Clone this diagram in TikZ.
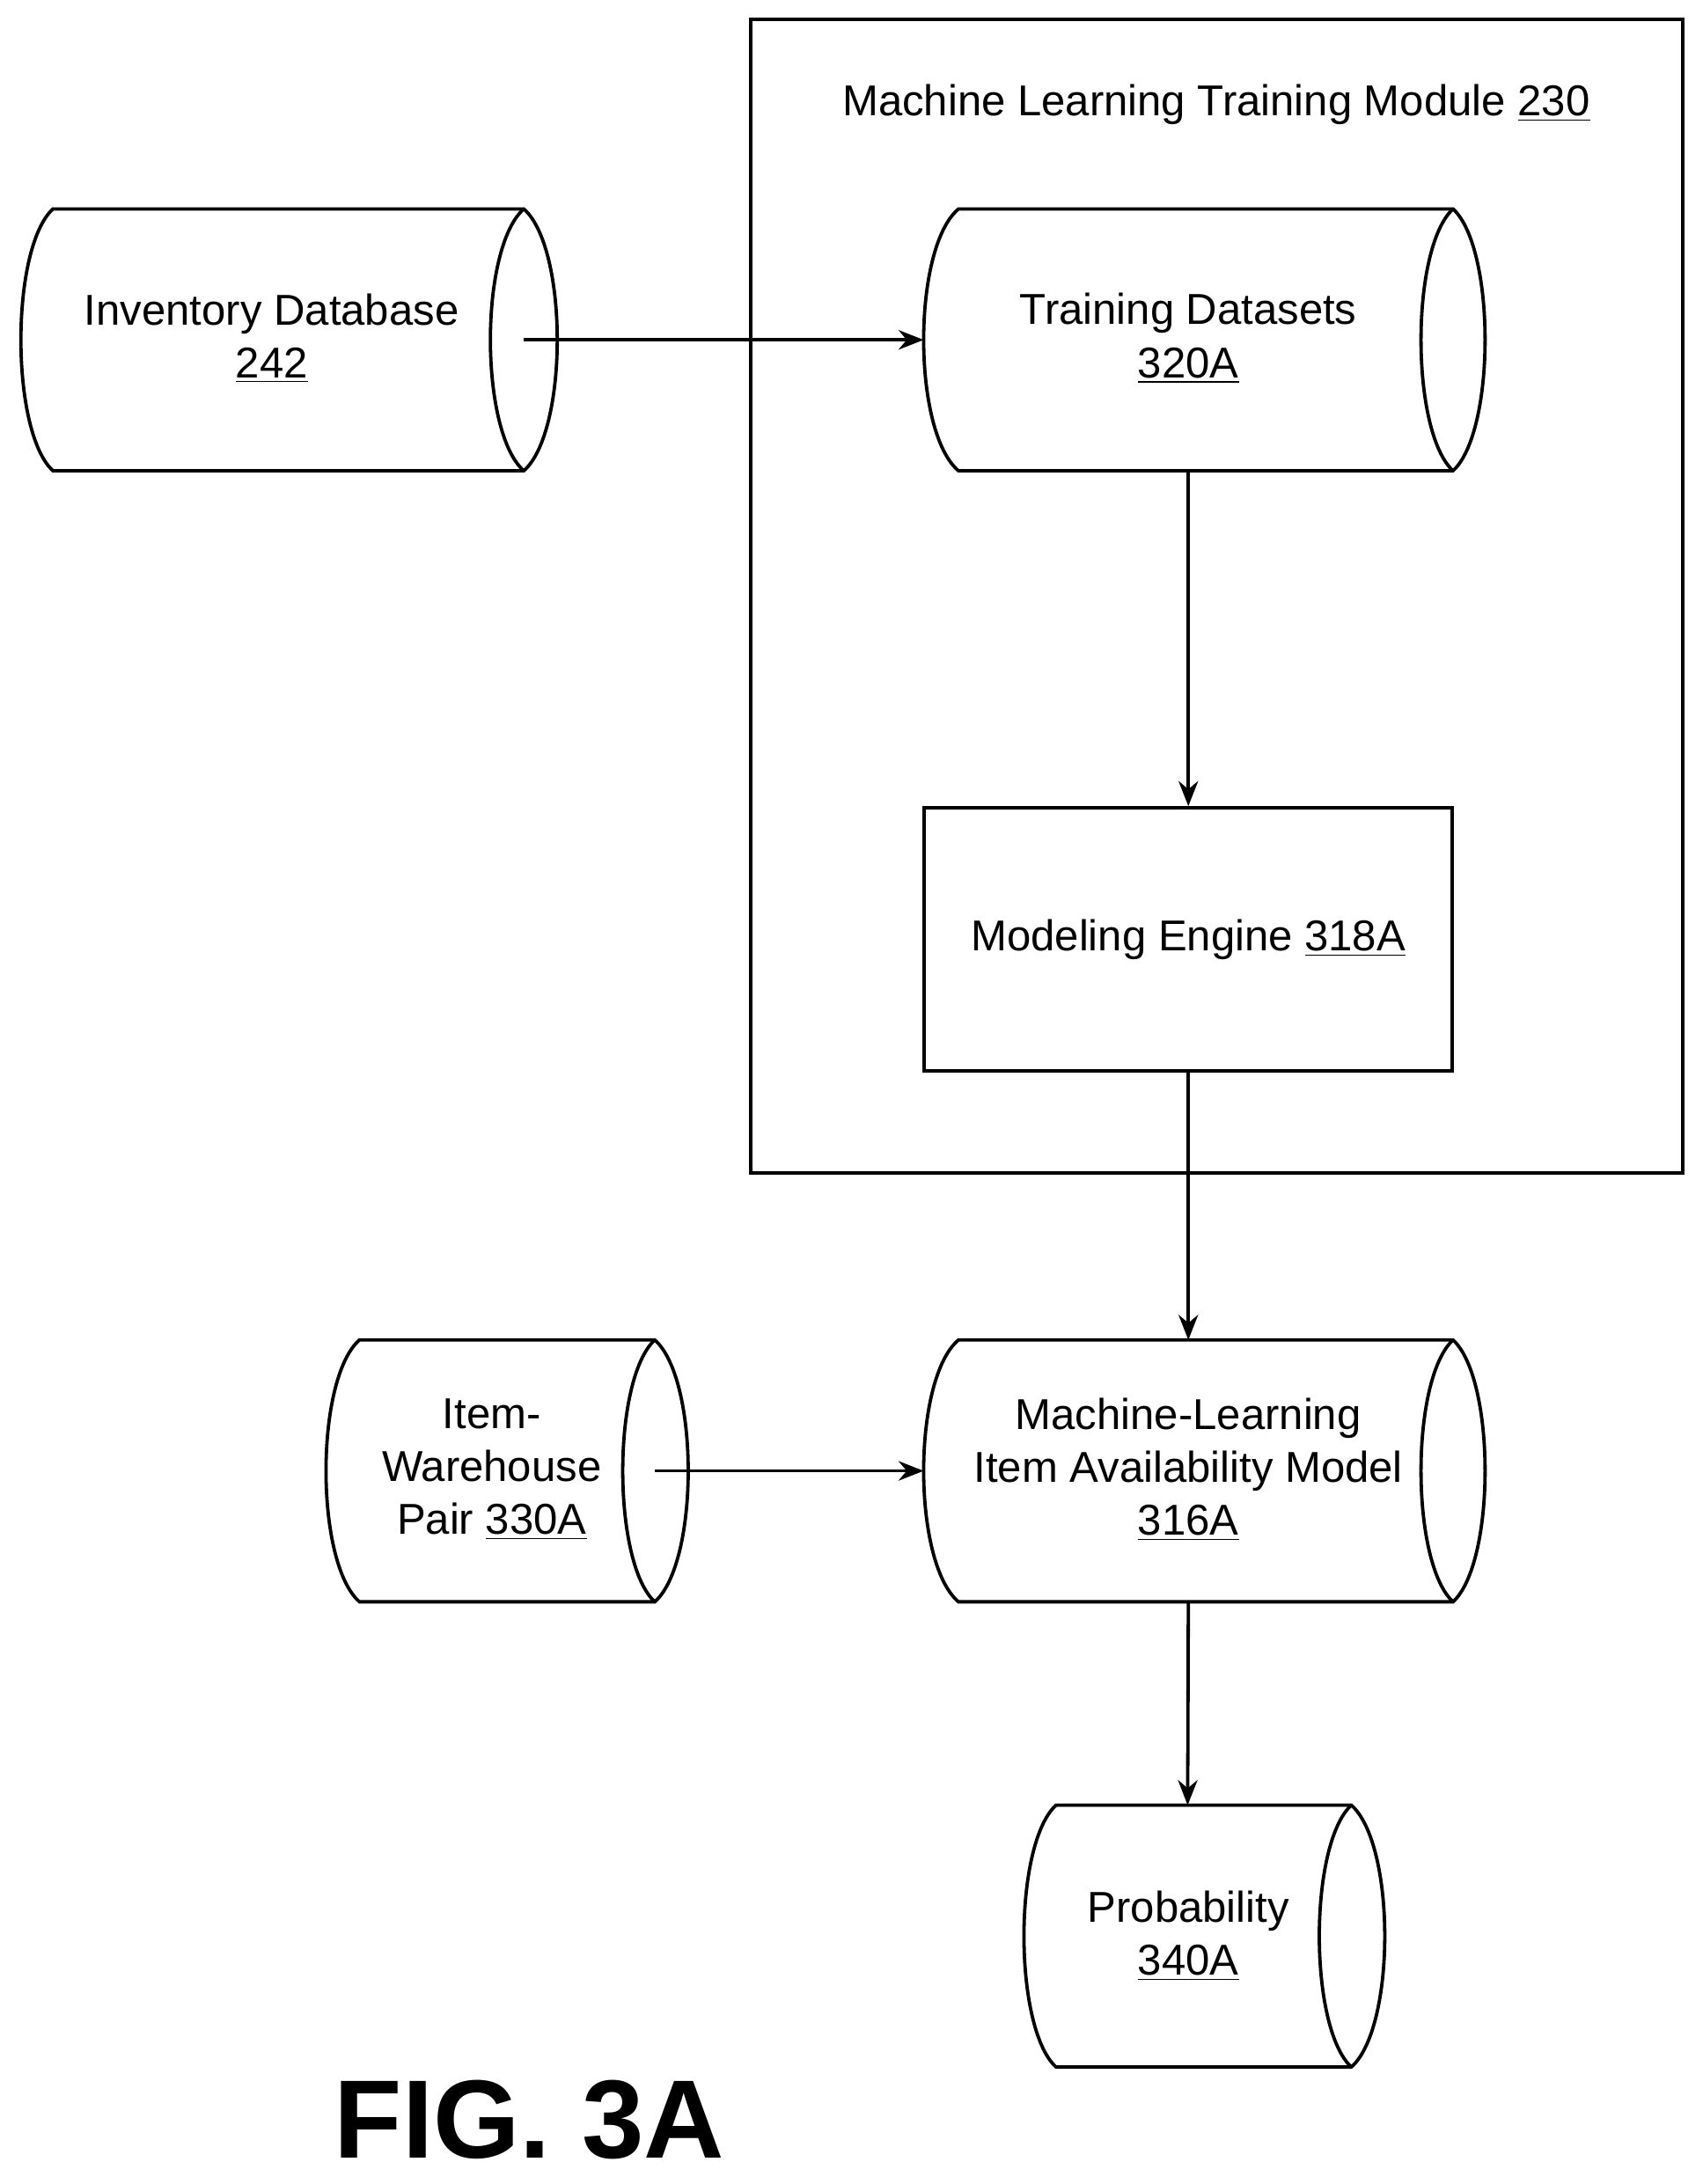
\documentclass[tikz,border=0pt]{standalone}
\usepackage{fontspec}
\setmainfont{Liberation Sans}
\usetikzlibrary{arrows.meta}
\begin{document}
\begin{tikzpicture}[x=0.5pt,y=-0.5pt,
  line width=1.2pt,
  lbl/.style={font=\fontsize{15.5}{19}\selectfont,align=center,inner sep=0},
  arr/.style={-{Stealth[length=9pt,width=7pt]}}]
\useasboundingbox (0,0) rectangle (1222,1568);
% cylinder macro: left bulge, left corner, right corner, right bulge, inner bulge, top, bottom, name
\newcommand\mycyl[8]{%
  \draw (#2,#6) -- (#3,#6)
     .. controls ({#3+(#4-#3)*4/3},{#6+(#7-#6)*0.15}) and ({#3+(#4-#3)*4/3},{#7-(#7-#6)*0.15}) .. (#3,#7)
     -- (#2,#7)
     .. controls ({#2-(#2-#1)*4/3},{#7-(#7-#6)*0.15}) and ({#2-(#2-#1)*4/3},{#6+(#7-#6)*0.15}) .. cycle;
  \draw (#3,#6) .. controls ({#3-(#3-#5)*4/3},{#6+(#7-#6)*0.15}) and ({#3-(#3-#5)*4/3},{#7-(#7-#6)*0.15}) .. (#3,#7);
  \coordinate (#8-l) at (#1,{(#6+#7)/2});
  \coordinate (#8-i) at (#3,{(#6+#7)/2});
  \coordinate (#8-t) at ({(#1+#3)/2},#6);
  \coordinate (#8-b) at ({(#1+#3)/2},#7);
}
\draw (539,14) rectangle (1208,842);
\node[lbl] (title) at (873,75) {Machine Learning Training Module \underline{230}};
\mycyl{15}{38}{376}{400}{352}{150}{338}{inv}
\node[lbl] (invt) at (195,243) {Inventory Database\\\underline{242}};
\mycyl{663}{688}{1043}{1066}{1020}{150}{338}{trn}
\node[lbl] (trnt) at (853,243) {Training Datasets\\\underline{320A}};
\node[draw,minimum width=189.5pt,minimum height=94.5pt,lbl] (me) at (853,674.5) {Modeling Engine \underline{318A}};
\mycyl{663}{688}{1043}{1066}{1020}{962}{1150}{ml}
\node[lbl] (mlt) at (853,1055) {Machine-Learning\\Item Availability Model\\\underline{316A}};
\mycyl{234}{258}{470}{494}{447}{962}{1150}{iw}
\node[lbl] (iwt) at (353,1055) {Item-\\Warehouse\\Pair \underline{330A}};
\mycyl{735}{758}{970}{994}{947}{1296}{1484}{pr}
\node[lbl] (prt) at (853,1390) {Probability\\\underline{340A}};
\node[font=\bfseries\fontsize{40}{44}\selectfont,inner sep=0] (fig) at (380,1522) {FIG. 3A};
\draw[arr] (inv-i) -- (trn-l);
\draw[arr] (trn-b) -- (me.north);
\draw[arr] (me.south) -- (ml-t);
\draw[arr] (iw-i) -- (ml-l);
\draw[arr] (ml-b) -- (pr-t);
\end{tikzpicture}
\end{document}
